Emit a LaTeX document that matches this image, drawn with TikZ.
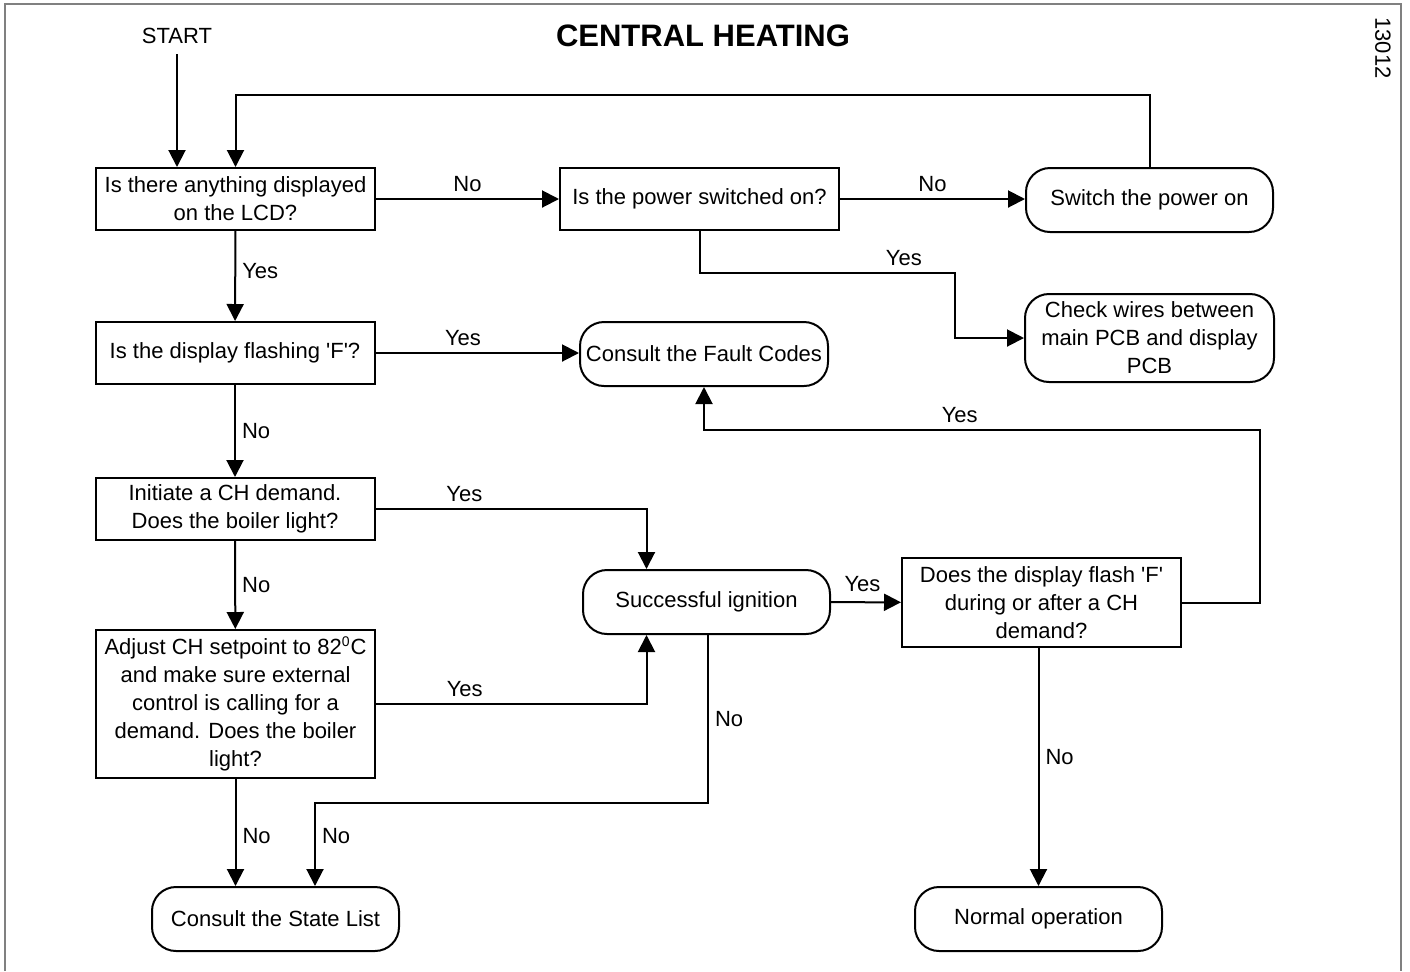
\documentclass[tikz,border=0pt]{standalone}
\usepackage{fontspec}
\setmainfont{Liberation Sans}
\usepackage{tikz}
\usetikzlibrary{arrows.meta,positioning,calc}
\tikzset{
	query/.style={draw, line width=1pt, align=center, inner sep=2pt, font=\fontsize{11}{14}\selectfont, minimum width=139.5pt, minimum height=31pt},
	terminal/.style={draw, line width=1pt, rounded corners=12pt, align=center, inner sep=2pt, font=\fontsize{11}{14}\selectfont, minimum width=123.5pt, minimum height=32pt},
	flow/.style={-{Triangle[length=8.5pt, width=8.5pt]}, line width=1pt},
	answer/.style={font=\fontsize{11}{14}\selectfont, inner sep=3pt}
}

\begin{document}
\begin{tikzpicture}[x=0.5pt, y=-0.5pt]
	\useasboundingbox (0,0) rectangle (1410,971);
	\draw[gray, line width=0.8pt] (5,971) |- (1401,4) -- (1401,971);
	\node[font=\fontsize{15.5}{18}\selectfont\bfseries] (title) at (703,36) {CENTRAL HEATING};
	\node[answer, rotate=-90] (code) at (1383,48) {13012};
	\node[answer] (start) at (177,36) {START};
	\node[query] (lcd) at (235.5,199) {Is there anything displayed\\on the LCD?};
	\node[query] (power) at (699.5,199) {Is the power switched on?};
	\node[terminal] (switch) at (1149.5,200) {Switch the power on};
	\node[terminal, minimum width=124.5pt, minimum height=44pt] (wires) at (1149.5,338) {Check wires between\\main PCB and display\\PCB};
	\node[query] (flashing) at (235,353) {Is the display flashing \textquotesingle F\textquotesingle?};
	\node[terminal, minimum width=124pt] (fault) at (704,354) {Consult the Fault Codes};
	\node[query] (demand) at (235,509) {Initiate a CH demand.\\Does the boiler light?};
	\node[terminal] (ignition) at (706.5,602) {Successful ignition};
	\node[query, minimum height=74pt] (adjust) at (235.5,704) {Adjust CH setpoint to 82\textsuperscript{\scriptsize 0}C\\and make sure external\\control is calling for a\\demand. Does the boiler\\light?};
	\node[query, minimum height=44.5pt] (flashcheck) at (1041.5,602.5) {Does the display flash \textquotesingle F\textquotesingle\\during or after a CH\\demand?};
	\node[terminal] (statelist) at (275.5,919) {Consult the State List};
	\node[terminal] (normal) at (1038.5,919) {Normal operation};
	\coordinate (bendA) at (955,273);
	\coordinate (loopB) at (1260,430);
	\draw[flow] (start.south) ++(0,4) -- (start |- lcd.north);
	\draw[flow] (switch.north) -- ++(0,-72) -| (lcd.north);
	\draw[flow] (lcd) -- node[answer, above] {No} (power);
	\draw[flow] (power.east) -- node[answer, above] {No} (power.east -| switch.west);
	\draw[flow] (power.south) |- node[answer, above, pos=0.9] {Yes} (bendA) |- (wires.west);
	\draw[flow] (lcd) -- node[answer, right, pos=0.45] {Yes} (flashing);
	\draw[flow] (flashing.east) -- node[answer, above, pos=0.43] {Yes} (flashing.east -| fault.west);
	\draw[flow] (flashing) -- node[answer, right] {No} (demand);
	\draw[flow] (demand.east) -| node[answer, above, pos=0.164] {Yes} ([xshift=-30pt]ignition.north);
	\draw[flow] (demand) -- node[answer, right] {No} (adjust);
	\draw[flow] (adjust.east) -| node[answer, above, pos=0.164] {Yes} ([xshift=-30pt]ignition.south);
	\draw[flow] ([xshift=0.75pt]ignition.south) -- node[answer, right] {No} ++(0,168) -| node[answer, right, pos=0.7] {No} ([xshift=19.75pt]statelist.north);
	\draw[flow] (adjust.south) -- node[answer, right, pos=0.53] {No} (adjust.south |- statelist.north);
	\draw[flow] (ignition) -- node[answer, above, yshift=2pt, pos=0.45] {Yes} (flashcheck);
	\draw[flow] (flashcheck.east) -| (loopB) -| node[answer, above, pos=0.27] {Yes} (fault.south);
	\draw[flow] (flashcheck.south -| normal.north) -- node[answer, right, pos=0.46] {No} (normal.north);
\end{tikzpicture}
\end{document}
